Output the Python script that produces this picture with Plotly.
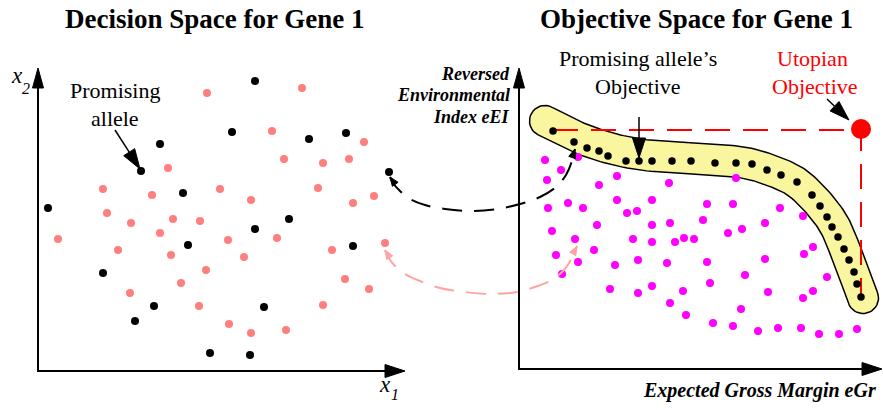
import numpy as np
import plotly.graph_objects as go

# ---------------- data (pixel units, y downwards) ----------------
dec_black_x = [255, 232, 160, 141, 183, 309, 346, 389, 48, 289, 255, 188, 353, 103, 154, 264, 135, 210, 250]
dec_black_y = [81, 132, 144, 171, 193, 139, 133, 172, 208, 219, 229, 245, 246, 273, 306, 307, 321, 353, 355]

dec_pink_x = [207, 302, 272, 364, 284, 323, 349, 168, 103, 152, 220, 318, 251, 374, 353, 107, 131, 173, 200, 160,
              58, 228, 277, 118, 171, 244, 332, 385, 206, 181, 345, 369, 130, 199, 323, 229, 251, 286]
dec_pink_y = [93, 88, 131, 142, 159, 163, 159, 168, 189, 195, 189, 188, 200, 196, 203, 213, 223, 219, 221, 233,
              239, 240, 238, 250, 255, 257, 250, 243, 270, 283, 279, 289, 293, 306, 305, 324, 333, 330]

obj_mag_x = [545, 578, 561, 547, 617, 599, 669, 736, 568, 617, 652, 707, 733, 548, 583, 627, 637, 780, 803, 552,
             597, 652, 670, 703, 765, 575, 633, 652, 675, 684, 694, 728, 742, 556, 594, 578, 615, 638, 667, 707,
             765, 804, 813, 562, 745, 827, 610, 638, 652, 683, 710, 768, 813, 803, 670, 686, 741, 713, 733, 758,
             778, 801, 819, 839, 857]
obj_mag_y = [160, 157, 170, 180, 176, 185, 183, 178, 203, 200, 200, 204, 204, 208, 208, 213, 211, 208, 216, 231,
             225, 225, 223, 220, 223, 239, 239, 242, 242, 238, 239, 233, 229, 255, 250, 262, 265, 260, 263, 262,
             259, 254, 247, 274, 275, 277, 289, 293, 286, 291, 283, 292, 291, 298, 303, 315, 309, 323, 326, 331,
             328, 328, 334, 334, 329]

front_x = [553, 574, 587, 599, 608, 626, 639, 652, 672, 691, 715, 736, 752, 767, 781, 797, 812, 820, 827, 832,
           838, 844, 849, 854, 857, 861]
front_y = [131, 142, 148, 151, 156, 161, 161, 161, 161, 161, 163, 163, 164, 170, 175, 182, 195, 206, 217, 227,
           237, 249, 260, 272, 284, 297]

utopian_x = [861]
utopian_y = [129]

# yellow band centre line
band_cx = [545, 587, 637, 700, 740, 770, 800, 830, 846, 863]
band_cy = [121, 141, 154, 159, 162, 170, 185, 218, 252, 298]

# red dashed guide (first front point -> utopian -> last front point)
guide_x = [553, 861, 861]
guide_y = [130, 130, 297]

# curved dashed links
black_link_x = [390, 393, 400, 410, 425, 445, 470, 497, 520, 540, 556, 566, 572, 575]
black_link_y = [177, 183, 191, 199, 205, 209, 211, 209, 204, 197, 187, 175, 161, 149]
pink_link_x = [385, 388, 395, 405, 420, 440, 465, 490, 517, 535, 552, 564, 572, 577]
pink_link_y = [250, 257, 266, 274, 281, 288, 292, 294, 292, 287, 280, 270, 258, 246]

# axes (origin, y tip, x tip)
dec_axis = dict(ox=38, oy=371, ytip=68, xtip=405)
obj_axis = dict(ox=519, oy=369, ytip=68, xtip=882)

# pointer arrows: tail -> tip
ptr_tail_x = [115, 639, 827]
ptr_tail_y = [130, 117, 99]
ptr_tip_x = [140, 639, 849]
ptr_tip_y = [169, 158, 120]

FONT = "Liberation Serif"

fig = go.Figure()


def head(tip, frm, L, Wd, color):
    tx, ty = tip
    dx, dy = tx - frm[0], ty - frm[1]
    n = np.hypot(dx, dy)
    ux, uy = dx / n, dy / n
    bx, by = tx - L * ux, ty - L * uy
    nx, ny = -uy, ux
    xs = [tx, bx + Wd / 2 * nx, bx - Wd / 2 * nx, tx]
    ys = [ty, by + Wd / 2 * ny, by - Wd / 2 * ny, ty]
    fig.add_trace(go.Scatter(x=xs, y=ys, mode="lines", fill="toself", fillcolor=color,
                             line=dict(color=color, width=1), hoverinfo="skip", showlegend=False))
    return bx, by


def line(xs, ys, color, width, dash="solid", shape="linear"):
    fig.add_trace(go.Scatter(x=xs, y=ys, mode="lines", line=dict(color=color, width=width, dash=dash, shape=shape),
                             hoverinfo="skip", showlegend=False))


# ---- axes ----
for ax in (dec_axis, obj_axis):
    line([ax["ox"], ax["ox"]], [ax["oy"] + 1, ax["ytip"] + 15], "black", 2)
    line([ax["ox"] - 1, ax["xtip"] - 15], [ax["oy"], ax["oy"]], "black", 2)
    head((ax["ox"], ax["ytip"]), (ax["ox"], ax["oy"]), 20, 11, "black")
    head((ax["xtip"], ax["oy"]), (ax["ox"], ax["oy"]), 20, 13, "black")

# ---- yellow band (offset of the centre line) ----
def catmull(px, py, n=16):
    P = np.array(list(zip(px, py)), dtype=float)
    P = np.vstack([P[0], P, P[-1]])
    out = []
    for i in range(1, len(P) - 2):
        p0, p1, p2, p3 = P[i - 1], P[i], P[i + 1], P[i + 2]
        for t in np.linspace(0, 1, n, endpoint=False):
            out.append(0.5 * ((2 * p1) + (-p0 + p2) * t + (2 * p0 - 5 * p1 + 4 * p2 - p3) * t ** 2
                              + (-p0 + 3 * p1 - 3 * p2 + p3) * t ** 3))
    out.append(P[-2])
    return np.array(out)


C = catmull(band_cx, band_cy)
T = np.gradient(C, axis=0)
T /= np.linalg.norm(T, axis=1)[:, None]
N = np.stack([-T[:, 1], T[:, 0]], axis=1)
r = 15.5
left = C + r * N
right = C - r * N
a_end = np.arctan2(T[-1, 1], T[-1, 0])
arc_end = [C[-1] + r * np.array([np.cos(a), np.sin(a)]) for a in np.linspace(a_end + np.pi / 2, a_end - np.pi / 2, 20)]
a_st = np.arctan2(T[0, 1], T[0, 0])
arc_st = [C[0] + r * np.array([np.cos(a), np.sin(a)]) for a in np.linspace(a_st - np.pi / 2, a_st - 3 * np.pi / 2, 20)]
poly = np.vstack([left, arc_end, right[::-1], arc_st])
fig.add_trace(go.Scatter(x=poly[:, 0], y=poly[:, 1], mode="lines", fill="toself", fillcolor="#FAF6A0",
                         line=dict(color="black", width=1.5), hoverinfo="skip", showlegend=False))

# ---- points ----
mk = dict(size=8, line=dict(width=0))
fig.add_trace(go.Scatter(x=dec_pink_x, y=dec_pink_y, mode="markers", marker=dict(color="#FF7F7F", **mk),
                         hoverinfo="skip", showlegend=False))
fig.add_trace(go.Scatter(x=dec_black_x, y=dec_black_y, mode="markers", marker=dict(color="black", **mk),
                         hoverinfo="skip", showlegend=False))
fig.add_trace(go.Scatter(x=obj_mag_x, y=obj_mag_y, mode="markers", marker=dict(color="#FF00FF", **mk),
                         hoverinfo="skip", showlegend=False))

# red guide
line(guide_x, guide_y, "#FF0000", 2, dash="25px,13px")

fig.add_trace(go.Scatter(x=front_x, y=front_y, mode="markers", marker=dict(color="black", size=7.5, line=dict(width=0)),
                         hoverinfo="skip", showlegend=False))
fig.add_trace(go.Scatter(x=utopian_x, y=utopian_y, mode="markers", marker=dict(color="#FF0000", size=20, line=dict(width=0)),
                         hoverinfo="skip", showlegend=False))

# ---- curved links ----
line(black_link_x, black_link_y, "black", 2, dash="20px,12px", shape="spline")
head((black_link_x[0], black_link_y[0]), (black_link_x[2], black_link_y[2]), 9, 7, "black")
head((black_link_x[-1], black_link_y[-1]), (black_link_x[-3], black_link_y[-3]), 9, 7, "black")
line(pink_link_x, pink_link_y, "#FFA3A3", 2, dash="20px,12px", shape="spline")
head((pink_link_x[0], pink_link_y[0]), (pink_link_x[2], pink_link_y[2]), 9, 7, "#FFA3A3")
head((pink_link_x[-1], pink_link_y[-1]), (pink_link_x[-3], pink_link_y[-3]), 9, 7, "#FFA3A3")

# ---- pointer arrows ----
for tx0, ty0, tx1, ty1 in zip(ptr_tail_x, ptr_tail_y, ptr_tip_x, ptr_tip_y):
    bx, by = head((tx1, ty1), (tx0, ty0), 20, 13, "black")
    line([tx0, bx], [ty0, by], "black", 1.5)

# ---- texts ----
def text(x, y, s, size, color="black", anchor="center", weight="normal", style="normal"):
    fig.add_annotation(x=x, y=y, xref="x", yref="y", text=s, showarrow=False, xanchor=anchor, yanchor="middle",
                       font=dict(family=FONT, size=size, color=color, weight=weight, style=style))


text(214, 19, "Decision Space for Gene 1", 27, weight="bold")
text(696, 19, "Objective Space for Gene 1", 27, weight="bold")
text(115, 90, "Promising", 22)
text(115, 118, "allele", 22)
text(638, 58, "Promising allele\u2019s", 22)
text(638, 86, "Objective", 22)
text(812, 58, "Utopian", 22, "#FF0000")
text(815, 86, "Objective", 22, "#FF0000")
text(512, 74, "Reversed", 18, anchor="right", weight="bold", style="italic")
text(512, 95, "Environmental", 18, anchor="right", weight="bold", style="italic")
text(512, 117, "Index eEI", 18, anchor="right", weight="bold", style="italic")
text(878, 390, "Expected Gross Margin eGr", 20, anchor="right", weight="bold", style="italic")
# axis symbols x2, x1 (letter + subscript digit)
text(17, 75, "x", 23, style="italic")
text(26, 88, "2", 16, style="italic")
text(385, 384, "x", 23, style="italic")
text(395, 394, "1", 16, style="italic")

fig.update_layout(
    width=883, height=410, margin=dict(l=0, r=0, t=0, b=0), autosize=False,
    paper_bgcolor="white", plot_bgcolor="white", showlegend=False,
    xaxis=dict(range=[0, 883], visible=False, fixedrange=True),
    yaxis=dict(range=[410, 0], visible=False, fixedrange=True),
)

fig.write_html("out.html", config={"displayModeBar": False, "staticPlot": True},
               post_script="document.body.style.margin='0px';")
